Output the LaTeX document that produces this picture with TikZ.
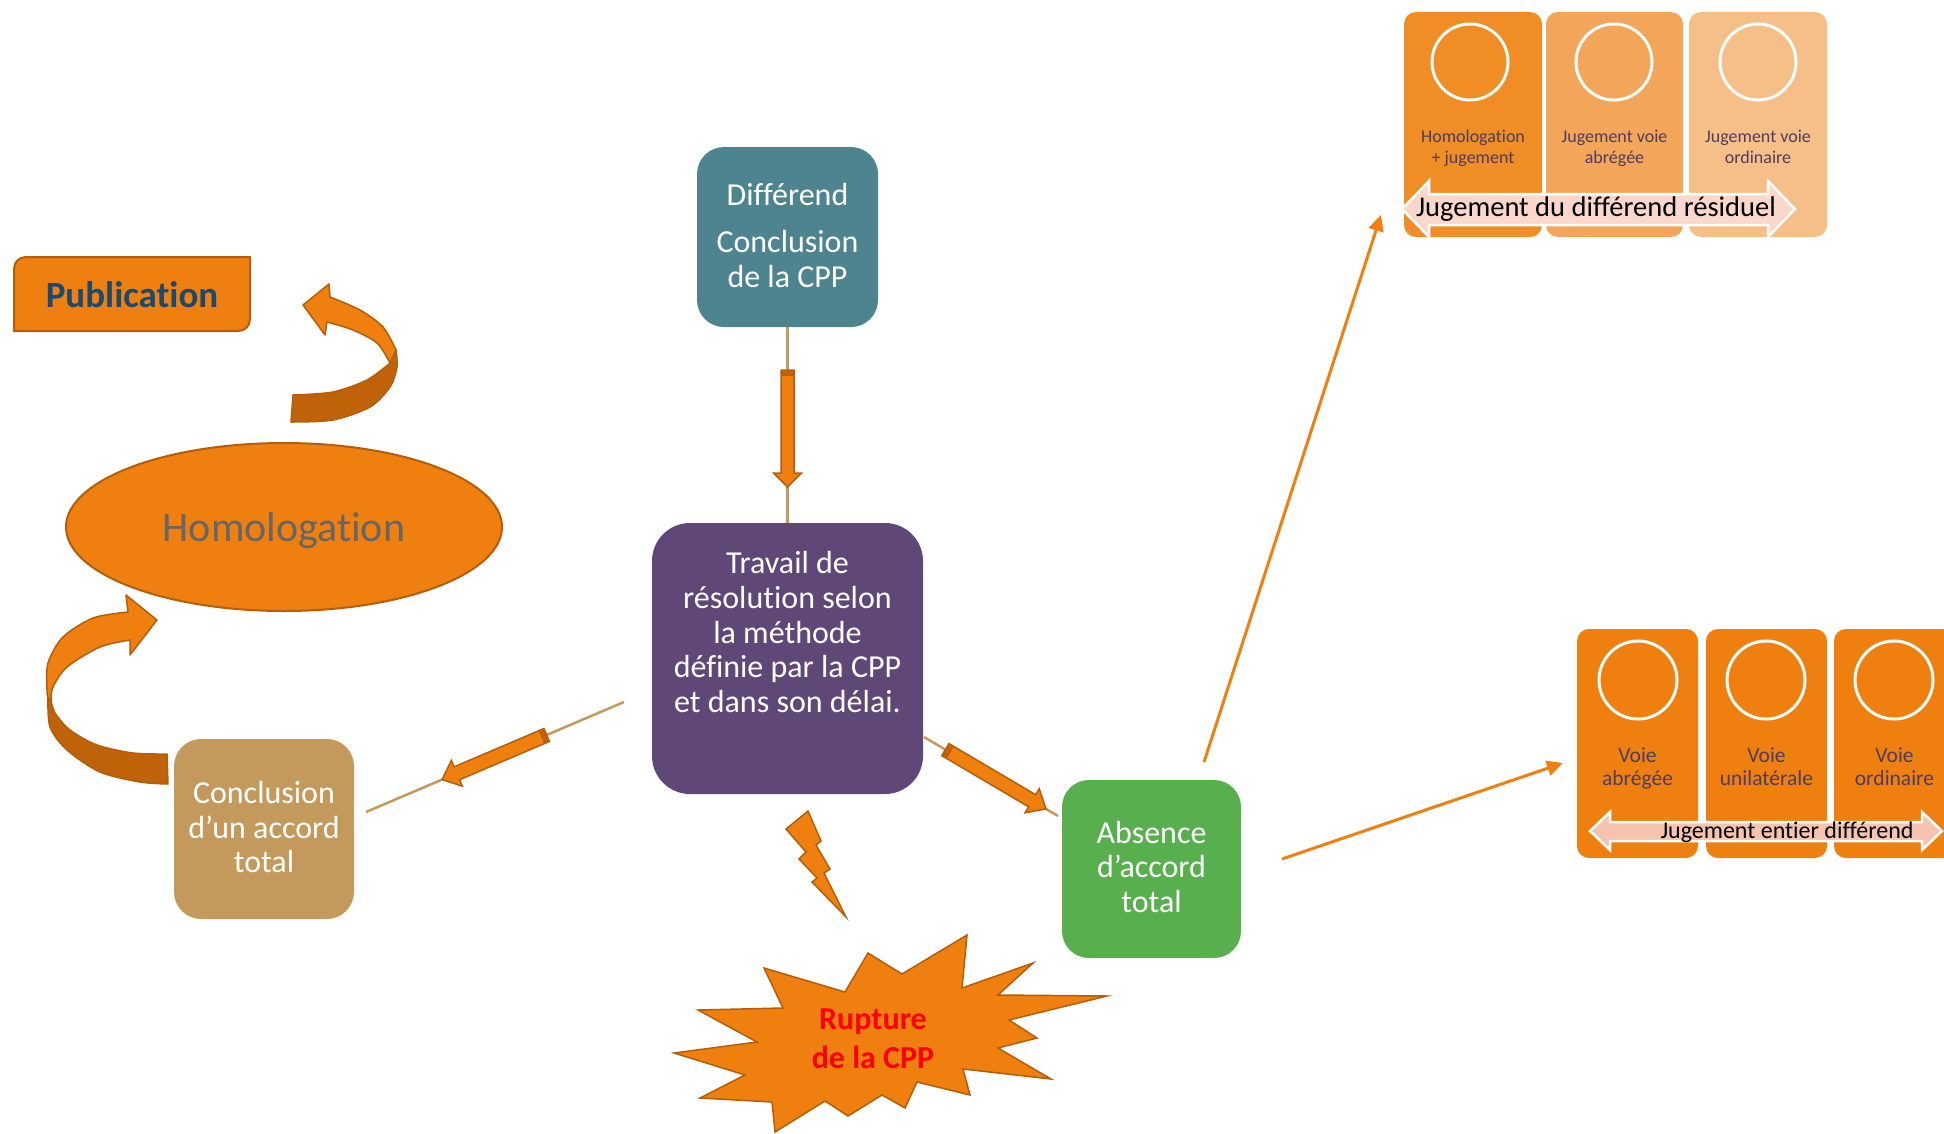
\documentclass[tikz,border=0pt]{standalone}
\usepackage{fontspec}
\setmainfont{Carlito}[Ligatures=NoCommon]
\usetikzlibrary{arrows.meta,calc,shapes.geometric}
\definecolor{cOrange}{HTML}{EF7F0F}
\definecolor{cOrangeDk}{HTML}{B55D08}
\definecolor{cOrange3d}{HTML}{C0620A}
\definecolor{cTeal}{HTML}{4D8490}
\definecolor{cPurple}{HTML}{5F4878}
\definecolor{cTan}{HTML}{C49A5C}
\definecolor{cGreen}{HTML}{57AF4D}
\definecolor{cT1}{HTML}{F18D25}
\definecolor{cT2}{HTML}{F3A65A}
\definecolor{cT3}{HTML}{F6BF88}
\definecolor{cPinkA}{HTML}{F9D8CB}
\definecolor{cPinkB}{HTML}{F6C3AE}
\definecolor{cPubText}{HTML}{1B4A6E}
\definecolor{cSmallText}{HTML}{4E3D60}
\definecolor{cGray}{HTML}{666666}
\newcommand{\blockarr}[5]{%
  \coordinate (ba-h) at ($(#2)!#5!(#1)$);
  \coordinate (ba-c) at ($(#1)!5pt!(#2)$);
  \fill[cOrange, draw=cOrangeDk, line width=1.5pt, line join=miter]
    ($(#1)!#3!90:(#2)$) -- ($(ba-h)!#3!90:(#2)$) -- ($(ba-h)!#4!90:(#2)$) -- (#2)
    -- ($(ba-h)!#4!-90:(#2)$) -- ($(ba-h)!#3!-90:(#2)$) -- ($(#1)!#3!-90:(#2)$) -- cycle;
  \fill[cOrange3d, draw=cOrangeDk, line width=1pt]
    ($(#1)!#3!90:(#2)$) -- ($(ba-c)!#3!90:(#2)$) -- ($(ba-c)!#3!-90:(#2)$) -- ($(#1)!#3!-90:(#2)$) -- cycle;
}
\begin{document}
\begin{tikzpicture}[x=1pt,y=-1pt,
  conn/.style={draw=cTan, line width=2.5pt},
  thinarr/.style={draw=cOrange, line width=3pt, -{Triangle[length=16pt,width=15pt]}},
  mbox/.style={rectangle, inner sep=0pt, draw=none},
  wtxt/.style={text=white, font=\fontsize{32}{38}\selectfont, anchor=base, inner sep=0pt},
  stxt/.style={text=cSmallText, font=\fontsize{18}{21}\selectfont, anchor=base, inner sep=0pt},
  btxt/.style={text=cSmallText, font=\fontsize{21.5}{24}\selectfont, anchor=base, inner sep=0pt},
  ring/.style={circle, draw=white, line width=3pt, inner sep=0pt},
  shape3d/.style={draw=cOrangeDk, line width=1.5pt, line join=round}]
\useasboundingbox (0,0) rectangle (1944,1133);
\clip (0,0) rectangle (1944,1133);

% ---------- main boxes ----------
\node[mbox, fill=cTeal, minimum width=181pt, minimum height=180pt, rounded corners=27pt] (diff) at (787.5,237) {};
\node[wtxt] (diff1) at (787.5,205) {Différend};
\node[wtxt] (diff2) at (787.5,252) {Conclusion};
\node[wtxt] (diff3) at (787.5,287) {de la CPP};

\node[mbox, fill=cPurple, minimum width=271pt, minimum height=271pt, rounded corners=38pt] (work) at (787.5,658.5) {};
\node[wtxt] (w1) at (787.5,573) {Travail de};
\node[wtxt] (w2) at (787.5,608) {résolution selon};
\node[wtxt] (w3) at (787.5,643) {la méthode};
\node[wtxt] (w4) at (787.5,677) {définie par la CPP};
\node[wtxt] (w5) at (787.5,712) {et dans son délai.};

\node[mbox, fill=cTan, minimum width=180pt, minimum height=180pt, rounded corners=27pt] (concl) at (264,829) {};
\node[wtxt] (c1) at (264,803) {Conclusion};
\node[wtxt] (c2) at (264,838) {d’un accord};
\node[wtxt] (c3) at (264,872) {total};

\node[mbox, fill=cGreen, minimum width=179pt, minimum height=178pt, rounded corners=27pt] (abs) at (1151.5,869) {};
\node[wtxt] (a1) at (1151.5,843) {Absence};
\node[wtxt] (a2) at (1151.5,877) {d’accord};
\node[wtxt] (a3) at (1151.5,912) {total};

% ---------- connectors with block arrows ----------
\draw[conn] (diff.south) -- (work.north);
\coordinate (aVt) at (787.5,370);
\coordinate (aVh) at (787.5,487);
\blockarr{aVt}{aVh}{6.5pt}{14pt}{14pt}

\coordinate (lA) at (624,702);
\coordinate (lB) at (366,812);
\draw[conn] (lA) -- (lB);
\coordinate (aLt) at ($(lA)!0.30!(lB)$);
\coordinate (aLh) at ($(lA)!0.705!(lB)$);
\blockarr{aLt}{aLh}{7pt}{14pt}{16pt}

\coordinate (rA) at (924,737);
\coordinate (rB) at (1058,816);
\draw[conn] (rA) -- (rB);
\coordinate (aRt) at ($(rA)!0.16!(rB)$);
\coordinate (aRh) at ($(rA)!0.91!(rB)$);
\blockarr{aRt}{aRh}{7pt}{14pt}{16pt}

% ---------- thin arrows ----------
\coordinate (u0) at (1204,762);
\coordinate (u1) at (1381,215);
\draw[thinarr] (u0) -- (u1);
\coordinate (d0) at (1282,859);
\coordinate (d1) at (1563,763);
\draw[thinarr] (d0) -- (d1);

% ---------- Homologation ----------
\node[ellipse, fill=cOrange, draw=cOrangeDk, line width=2pt, minimum width=436pt, minimum height=168pt, inner sep=0pt] (homol) at (284,527) {};
\node[anchor=base, inner sep=0pt, text=cGray, font=\fontsize{42}{48}\selectfont] (homolT) at (284,541) {Homologation};

% upper curved arrow
\fill[cOrange3d, shape3d] (291,422) -- (293,395)
  -- plot[smooth] coordinates {(293,395) (333,392) (367,380) (390,363)}
  -- plot[smooth] coordinates {(396,350) (397,367) (390,387) (370,407) (333,420) (291,422)} -- cycle;
\fill[cOrange, shape3d] plot[smooth] coordinates {(390,363) (377,343) (353,330) (327,322)}
  -- (325,335) -- (303,305) -- (329,284)
  -- plot[smooth] coordinates {(330,297) (360,310) (383,327) (396,350)} -- cycle;

% lower curved arrow
\fill[cOrange3d, shape3d] plot[smooth] coordinates {(48,698) (50,727) (67,750) (100,772) (140,782) (168,784)}
  -- (167,754)
  -- plot[smooth] coordinates {(167,754) (133,753) (97,745) (70,730) (55,713) (51,700)} -- cycle;
\fill[cOrange, shape3d] plot[smooth] coordinates {(48,698) (47,690) (48,663) (63,637) (93,618) (128,612)}
  -- (126,595) -- (157,620) -- (130,655)
  -- plot[smooth] coordinates {(130,640) (100,647) (67,667) (53,687) (51,700)} -- cycle;

% ---------- Publication ----------
\fill[cOrange, draw=cOrangeDk, line width=2pt] (14,331) -- (14,269) .. controls (14,262) and (19,257) .. (26,257)
  -- (250,257) -- (250,319) .. controls (250,326) and (245,331) .. (238,331) -- cycle;
\node[anchor=base, inner sep=0pt, text=cPubText, font=\fontsize{37}{44}\selectfont\bfseries] (pub) at (132,307) {Publication};

% ---------- lightning and rupture ----------
\fill[cOrange, shape3d, line join=miter] (786,829) -- (808,811) -- (821,841) -- (816,845) -- (830,869) -- (824,873)
  -- (846,917) -- (812,882) -- (817,878) -- (799,859) -- (806,852) -- cycle;
\fill[cOrange, shape3d, line join=miter] (764,968) -- (845,992) -- (868,953) -- (902,974) -- (967,935) -- (962,988)
  -- (1033,963) -- (998,995) -- (1107,996) -- (1009,1020) -- (1037,1038) -- (998,1048) -- (1051,1079)
  -- (963,1069) -- (970,1095) -- (917,1082) -- (905,1108) -- (882,1095) -- (848,1116) -- (825,1101)
  -- (775,1132) -- (772,1102) -- (700,1098) -- (745,1075) -- (674,1053) -- (757,1042) -- (698,1010)
  -- (783,1008) -- cycle;
\node[anchor=base, inner sep=0pt, text=red, font=\fontsize{32}{38}\selectfont\bfseries] (rup1) at (873,1029) {Rupture};
\node[anchor=base, inner sep=0pt, text=red, font=\fontsize{32}{38}\selectfont\bfseries] (rup2) at (873,1068) {de la CPP};

% ---------- top group ----------
\node[mbox, fill=cT1, minimum width=138pt, minimum height=225pt, rounded corners=12pt] (t1) at (1473,124.5) {};
\node[mbox, fill=cT2, minimum width=137pt, minimum height=225pt, rounded corners=12pt] (t2) at (1614.5,124.5) {};
\node[mbox, fill=cT3, minimum width=138pt, minimum height=225pt, rounded corners=12pt] (t3) at (1758,124.5) {};
\node[ring, minimum size=76pt] (r1) at (1470,62) {};
\node[ring, minimum size=76pt] (r2) at (1614,62) {};
\node[ring, minimum size=76pt] (r3) at (1758,62) {};
\node[stxt] (t1a) at (1473,142) {Homologation};
\node[stxt] (t1b) at (1473,163) {+ jugement};
\node[stxt] (t2a) at (1614.5,142) {Jugement voie};
\node[stxt] (t2b) at (1614.5,163) {abrégée};
\node[stxt] (t3a) at (1758,142) {Jugement voie};
\node[stxt] (t3b) at (1758,163) {ordinaire};
\fill[cPinkA, draw=white, line width=2.5pt, line join=miter] (1402,209) -- (1429,181) -- (1429,194) -- (1768,194) -- (1768,181)
  -- (1795,209) -- (1768,237) -- (1768,225) -- (1429,225) -- (1429,237) -- cycle;
\node[anchor=base, inner sep=0pt, font=\fontsize{28.5}{32}\selectfont] (tlab) at (1596,216) {Jugement du différend résiduel};

% ---------- bottom group ----------
\node[mbox, fill=cOrange, minimum width=121pt, minimum height=229pt, rounded corners=12pt] (b1) at (1637.5,743.5) {};
\node[mbox, fill=cOrange, minimum width=121pt, minimum height=229pt, rounded corners=12pt] (b2) at (1766.5,743.5) {};
\node[mbox, fill=cOrange, minimum width=121pt, minimum height=229pt, rounded corners=12pt] (b3) at (1894.5,743.5) {};
\node[ring, minimum size=78pt] (q1) at (1638,680) {};
\node[ring, minimum size=78pt] (q2) at (1766,680) {};
\node[ring, minimum size=78pt] (q3) at (1894,680) {};
\node[btxt] (b1a) at (1637.5,762) {Voie};
\node[btxt] (b1b) at (1637.5,785) {abrégée};
\node[btxt] (b2a) at (1766.5,762) {Voie};
\node[btxt] (b2b) at (1766.5,785) {unilatérale};
\node[btxt] (b3a) at (1894.5,762) {Voie};
\node[btxt] (b3b) at (1894.5,785) {ordinaire};
\fill[cPinkB, draw=white, line width=2.5pt, line join=miter] (1590,831) -- (1610,812) -- (1610,822) -- (1922,822) -- (1922,812)
  -- (1942,831) -- (1922,850) -- (1922,841) -- (1610,841) -- (1610,850) -- cycle;
\node[anchor=base, inner sep=0pt, font=\fontsize{24}{28}\selectfont] (blab) at (1787,838) {Jugement entier différend};
\end{tikzpicture}
\end{document}
